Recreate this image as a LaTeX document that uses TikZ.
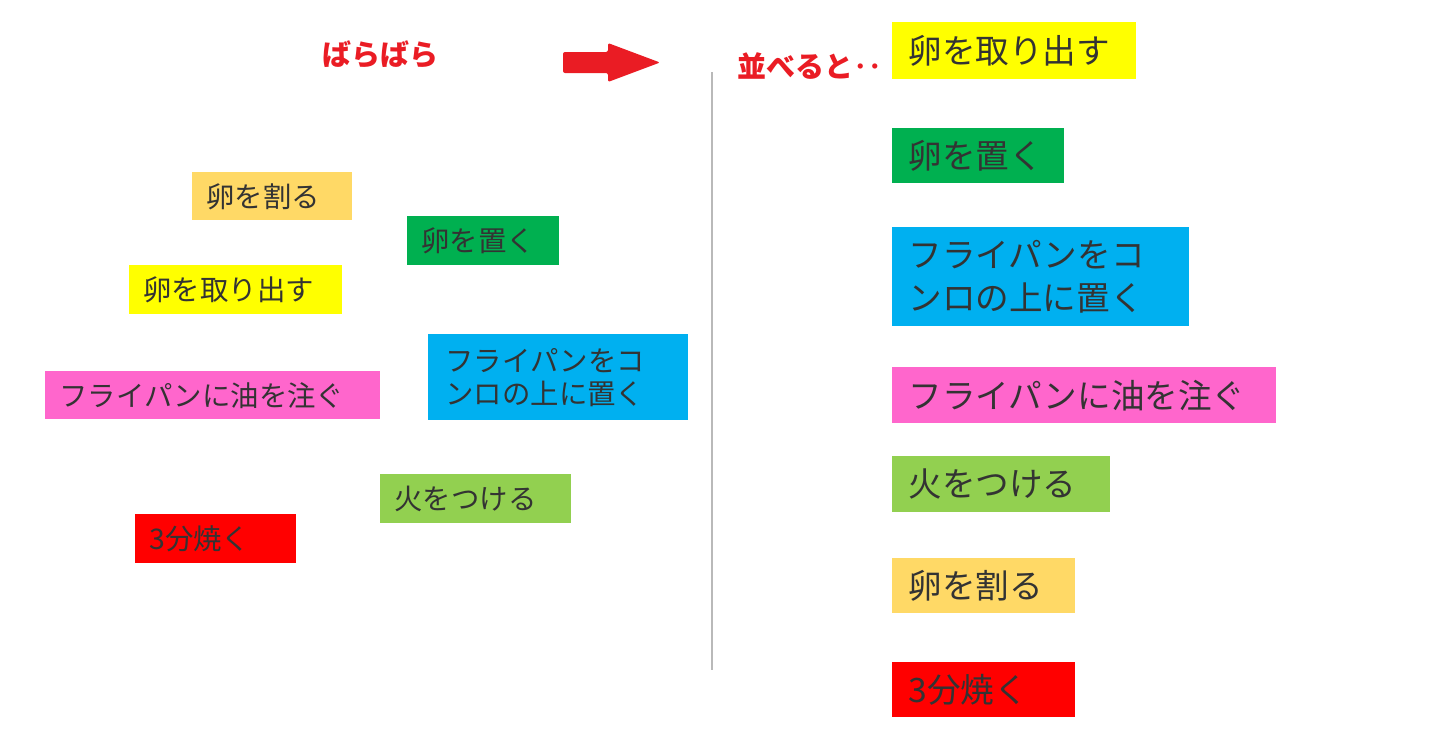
\documentclass[tikz,border=0pt]{standalone}
\usepackage{fontspec}
\setmainfont{Noto Sans CJK JP}
\usepackage{xcolor}
\usepackage{tikz}
\usetikzlibrary{positioning}

\definecolor{eggorange}{HTML}{FFD966}
\definecolor{eggyellow}{HTML}{FFFF00}
\definecolor{egggreen}{HTML}{00B050}
\definecolor{panblue}{HTML}{00B0F0}
\definecolor{oilpink}{HTML}{FF66CC}
\definecolor{firegreen}{HTML}{92D050}
\definecolor{bakered}{HTML}{FF0000}
\definecolor{titlered}{HTML}{EA1C24}

\tikzset{
    card/.style={anchor=north west, inner xsep=7pt, inner ysep=0pt, align=left,
        text=black!80, font=\fontsize{14.2}{16.5}\selectfont},
    bigcard/.style={card, inner xsep=8pt, font=\fontsize{16.8}{21.5}\selectfont},
    title/.style={text=titlered, font=\bfseries\fontsize{14.5}{17}\selectfont}
}

\begin{document}
\begin{tikzpicture}[x=0.5pt, y=-0.5pt]
    \useasboundingbox (0,0) rectangle (1440,740);

    % --- titles and arrow ---
    \node[title] (scatter) at (380,55) {ばらばら};
    \node[title, anchor=west] (sorted) at (730,66) {並べると‥};
    \fill[titlered, rounded corners=1pt] (563,52) -- (608,52) -- (608,43) -- (660,62.5)
        -- (608,82) -- (608,73) -- (563,73) -- cycle;

    % dividing line
    \draw[gray!55, line width=1pt] (712,72) -- (712,670);

    % --- left: scattered cards ---
    \node[card, fill=eggorange, text width=66pt, minimum height=24pt] (crackL) at (192,172) {卵を割る};
    \node[card, fill=egggreen, text width=62pt, minimum height=24.5pt] (placeL) at (407,216) {卵を置く};
    \node[card, fill=eggyellow, text width=92.5pt, minimum height=24.5pt] (takeL) at (129,265) {卵を取り出す};
    \node[card, fill=oilpink, text width=153.5pt, minimum height=24pt] (oilL) at (45,371) {フライパンに油を注ぐ};
    \node[card, fill=panblue, inner xsep=8.5pt, text width=113pt, minimum height=43pt] (panL) at (428,334) {フライパンをコ\\ンロの上に置く};
    \node[card, fill=firegreen, text width=81.5pt, minimum height=24.5pt] (fireL) at (380,474) {火をつける};
    \node[card, fill=bakered, text width=66.5pt, minimum height=24.5pt] (bakeL) at (135,514) {3分焼く};

    % --- right: cards in order ---
    \node[bigcard, fill=eggyellow, text width=106pt, minimum height=28.5pt] (takeR) at (892,22) {卵を取り出す};
    \node[bigcard, fill=egggreen, text width=70pt, minimum height=27.5pt] (placeR) at (892,128) {卵を置く};
    \node[bigcard, fill=panblue, text width=132.5pt, minimum height=49.5pt] (panR) at (892,227) {フライパンをコ\\ンロの上に置く};
    \node[bigcard, fill=oilpink, text width=176pt, minimum height=28pt] (oilR) at (892,367) {フライパンに油を注ぐ};
    \node[bigcard, fill=firegreen, text width=93pt, minimum height=28pt] (fireR) at (892,456) {火をつける};
    \node[bigcard, fill=eggorange, text width=75.5pt, minimum height=27.5pt] (crackR) at (892,558) {卵を割る};
    \node[bigcard, fill=bakered, text width=75.5pt, minimum height=27.5pt] (bakeR) at (892,662) {3分焼く};

\end{tikzpicture}
\end{document}
